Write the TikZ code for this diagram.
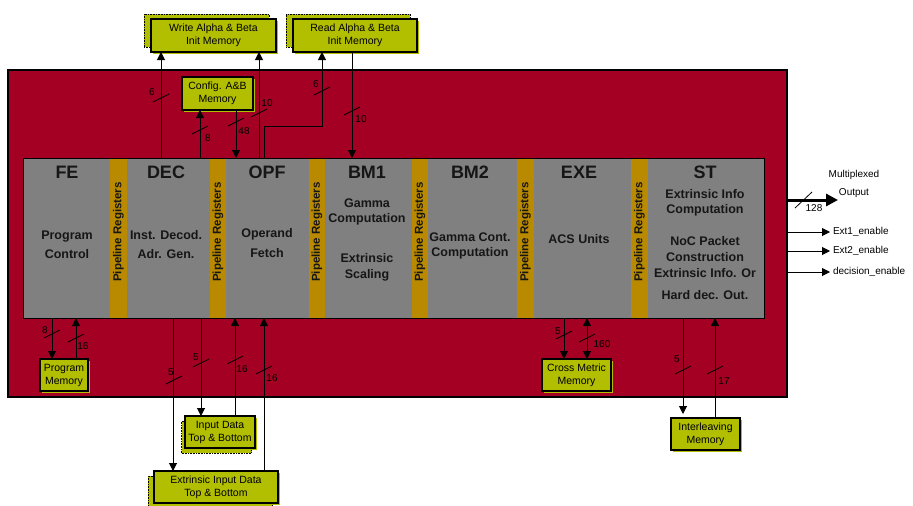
\documentclass[tikz,border=0pt]{standalone}
\usepackage{fontspec}
\setmainfont{Liberation Sans}
\usetikzlibrary{arrows.meta,shadows}
\definecolor{ChipRed}{RGB}{163,0,35}
\definecolor{CoreGray}{RGB}{128,128,128}
\definecolor{PipeGold}{RGB}{185,138,0}
\definecolor{MemGreen}{RGB}{178,190,0}
\definecolor{CoreInk}{RGB}{22,22,22}
\tikzset{
    soc/diagram/.style={
        x=1pt, y=-1pt,
        line join=miter,
        every node/.style={inner sep=1pt, outer sep=0pt}
    },
    soc/chip/.style={fill=ChipRed, draw=black, line width=1.2pt},
    soc/core/.style={fill=CoreGray, draw=none},
    soc/coreframe/.style={draw=black, line width=1pt},
    soc/pipe/.style={fill=PipeGold, draw=none},
    soc/pipetext/.style={
        rotate=90, text=CoreInk,
        font=\fontsize{11.5}{12}\selectfont\bfseries
    },
    soc/title/.style={text=CoreInk, font=\fontsize{18}{20}\selectfont\bfseries},
    soc/text/.style={
        text=CoreInk, align=center,
        font=\fontsize{12.5}{15}\selectfont\bfseries
    },
    soc/mem/.style={
        fill=MemGreen, draw=black, line width=1.1pt,
        align=center, inner sep=0pt,
        font=\fontsize{10.5}{13}\selectfont,
        copy shadow={shadow xshift=1.5pt, shadow yshift=-1.5pt,
                     fill=MemGreen, draw=none}
    },
    soc/memstack/.style 2 args={
        copy shadow={shadow xshift=#1, shadow yshift=#2,
                     fill=MemGreen, draw=black, densely dotted, line width=0.6pt}
    },
    soc/wire/.style={
        draw=black, line width=1pt,
        -{Triangle[length=8pt, width=8pt]}
    },
    soc/wireboth/.style={
        draw=black, line width=1pt,
        {Triangle[length=8pt, width=8pt]}-{Triangle[length=8pt, width=8pt]}
    },
    soc/bigwire/.style={
        draw=black, line width=3pt,
        -{Triangle[length=12pt, width=12pt]}
    },
    soc/slash/.style={draw=black, line width=0.8pt},
    soc/bitlabel/.style={inner sep=0pt, font=\fontsize{10}{10}\selectfont},
    soc/outlabel/.style={anchor=west, inner sep=3pt, font=\fontsize{10}{12}\selectfont}
}

\begin{document}
\begin{tikzpicture}[soc/diagram]
    \useasboundingbox (0,0) rectangle (913,506);
    \def\busmark#1{\draw[soc/slash] (#1) ++(-8,4) -- ++(16,-8);}
    % chip and pipeline core
    \node[soc/chip, minimum width=779, minimum height=327, anchor=north west]
        (chip) at (8,70) {};
    \node[soc/core, minimum width=741, minimum height=160, anchor=north west]
        (core) at (23,158) {};
    \foreach \px [count=\i] in {118.5,218,317,420,525.5,639.5} {
        \fill[soc/pipe] (\px-8.25,158) rectangle (\px+8.25,318);
        \node[soc/pipetext] (pipe\i) at (\px,232) {Pipeline Registers};
    }
    \draw[soc/coreframe] (core.north west) rectangle (core.south east);

    % stages
    \node[soc/title] (fe)  at (67,172)  {FE};
    \node[soc/title] (dec) at (166,172) {DEC};
    \node[soc/title] (opf) at (267,172) {OPF};
    \node[soc/title] (bm1) at (367,172) {BM1};
    \node[soc/title] (bm2) at (470,172) {BM2};
    \node[soc/title] (exe) at (579,172) {EXE};
    \node[soc/title] (st)  at (705,172) {ST};
    \node[soc/text] (fetext)  at (67,245)  {Program\\[4pt]Control};
    \node[soc/text] (dectext) at (166,245) {Inst. Decod.\\[4pt]Adr. Gen.};
    \node[soc/text] (opftext) at (267,243) {Operand\\[5pt]Fetch};
    \node[soc/text] (bm1gam)  at (367,212) {Gamma\\Computation};
    \node[soc/text] (bm1ext)  at (367,267) {Extrinsic\\[1pt]Scaling};
    \node[soc/text] (bm2text) at (470,246) {Gamma Cont.\\Computation};
    \node[soc/text] (exetext) at (579,239) {ACS Units};
    \node[soc/text] (stext)   at (705,203) {Extrinsic Info\\Computation};
    \node[soc/text] (stnoc)   at (705,257) {NoC Packet\\[1pt]Construction\\[1pt]Extrinsic Info. Or};
    \node[soc/text] (sthard)  at (705,295) {Hard dec. Out.};

    % memories
    \node[soc/memstack={-7pt}{5pt}, soc/mem, minimum width=125, minimum height=33]
        (wmem) at (213.5,35.5) {Write Alpha \& Beta\\Init Memory};
    \node[soc/memstack={-7pt}{5pt}, soc/mem, minimum width=124, minimum height=33]
        (rmem) at (355,35.5) {Read Alpha \& Beta\\Init Memory};
    \node[soc/mem, minimum width=71, minimum height=33]
        (cfg) at (217.5,93.5) {Config. A\&B\\Memory};
    \node[soc/mem, minimum width=48, minimum height=32]
        (pmem) at (64,375) {Program\\Memory};
    \node[soc/mem, minimum width=69, minimum height=32]
        (cmem) at (576.5,375) {Cross Metric\\Memory};
    \node[soc/mem, minimum width=69, minimum height=32]
        (imem) at (705.5,434) {Interleaving\\Memory};
    \node[soc/memstack={-3.5pt}{-5pt}, soc/mem, minimum width=70, minimum height=32]
        (idat) at (220,432) {Input Data\\Top \& Bottom};
    \node[soc/memstack={-6pt}{-5pt}, soc/mem, minimum width=124, minimum height=32]
        (edat) at (216,487) {Extrinsic Input Data\\Top \& Bottom};

    % top buses
    \draw[soc/wire] (161,0 |- core.north) -- (161,0 |- wmem.south);
    \draw[soc/wire] (200,0 |- core.north) -- (200,0 |- cfg.south);
    \draw[soc/wire] (236,0 |- cfg.south) -- (236,0 |- core.north);
    \draw[soc/wire] (259,0 |- core.north) -- (259,0 |- wmem.south);
    \draw[soc/wire] (264,0 |- core.north) |- (322,126) -- (322,0 |- rmem.south);
    \draw[soc/wire] (352,0 |- rmem.south) -- (352,0 |- core.north);
    \busmark{161,98}  \node[soc/bitlabel] (bw1) at (152,92)  {6};
    \busmark{200,130} \node[soc/bitlabel] (bw2) at (208,138) {8};
    \busmark{236,122} \node[soc/bitlabel] (bw3) at (244,131) {48};
    \busmark{259,113} \node[soc/bitlabel] (bw4) at (267,103) {10};
    \busmark{322,91}  \node[soc/bitlabel] (bw5) at (316,84)  {6};
    \busmark{352,111} \node[soc/bitlabel] (bw6) at (361,119) {10};

    % bottom buses
    \draw[soc/wire] (52,0 |- core.south) -- (52,0 |- pmem.north);
    \draw[soc/wire] (76,0 |- pmem.north) -- (76,0 |- core.south);
    \draw[soc/wire] (173,0 |- core.south) -- (173,0 |- edat.north);
    \draw[soc/wire] (201,0 |- core.south) -- (201,0 |- idat.north);
    \draw[soc/wire] (235,0 |- idat.north) -- (235,0 |- core.south);
    \draw[soc/wire] (264,0 |- edat.north) -- (264,0 |- core.south);
    \draw[soc/wire] (564,0 |- core.south) -- (564,0 |- cmem.north);
    \draw[soc/wireboth] (587,0 |- core.south) -- (587,0 |- cmem.north);
    \draw[soc/wire] (683,0 |- core.south) -- ([yshift=4pt]683,0 |- imem.north);
    \draw[soc/wire] (715,0 |- imem.north) -- (715,0 |- core.south);
    \busmark{52,334}  \node[soc/bitlabel] (bw7)  at (45,330)  {8};
    \busmark{76,338}  \node[soc/bitlabel] (bw8)  at (83,346)  {16};
    \busmark{174,380} \node[soc/bitlabel] (bw9)  at (171,372) {5};
    \busmark{201,363} \node[soc/bitlabel] (bw10) at (196,357) {5};
    \busmark{235,360} \node[soc/bitlabel] (bw11) at (242,369) {16};
    \busmark{264,370} \node[soc/bitlabel] (bw12) at (272,378) {16};
    \busmark{564,335} \node[soc/bitlabel] (bw13) at (558,331) {5};
    \busmark{587,338} \node[soc/bitlabel] (bw14) at (602,344) {160};
    \busmark{683,370} \node[soc/bitlabel] (bw15) at (677,359) {5};
    \busmark{715,370} \node[soc/bitlabel] (bw16) at (724,381) {17};

    % outputs
    \coordinate (muxtip) at (838,200);
    \draw[soc/bigwire] (chip.east |- muxtip) -- (muxtip);
    \draw[soc/slash] (795,208) -- (812,192);
    \node[soc/bitlabel] (bw17) at (814,208) {128};
    \node[soc/outlabel, anchor=center, align=center] (mux) at (854,184)
        {Multiplexed\\[6pt]Output};
    \node[soc/outlabel] (ext1) at (830,232) {Ext1\_enable};
    \node[soc/outlabel] (ext2) at (830,251) {Ext2\_enable};
    \node[soc/outlabel] (dece) at (830,272) {decision\_enable};
    \draw[soc/wire] (chip.east |- ext1.west) -- (ext1.west);
    \draw[soc/wire] (chip.east |- ext2.west) -- (ext2.west);
    \draw[soc/wire] (chip.east |- dece.west) -- (dece.west);
\end{tikzpicture}
\end{document}
